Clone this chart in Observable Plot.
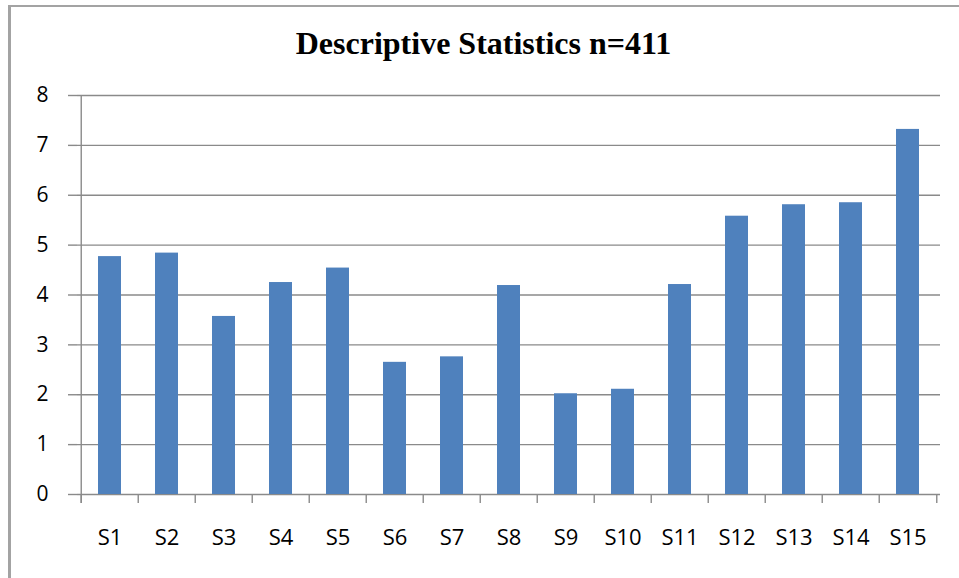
<!DOCTYPE html>
<html><head><meta charset="utf-8">
<script src="https://cdn.jsdelivr.net/npm/d3@7"></script>
<script src="https://cdn.jsdelivr.net/npm/@observablehq/plot@0.6"></script>
<style>
body{margin:0;background:#fff;}
#wrap{position:relative;width:959px;height:578px;overflow:hidden;background:#fff;}
#frame{position:absolute;left:8px;top:5px;width:1000px;height:700px;border-left:3px solid #a3a3a3;border-top:2px solid #a3a3a3;}
#title{position:relative;height:42px;padding-top:28px;padding-left:8px;line-height:30px;text-align:center;font-family:"Liberation Serif","Times New Roman",serif;font-weight:bold;font-size:32px;color:#000;}
#chart{position:relative;}
#chart svg{display:block;}
</style></head>
<body><div id="wrap"><div id="frame"></div><div id="title">Descriptive Statistics n=411</div><div id="chart"></div></div>
<script>
const categories = ["S1","S2","S3","S4","S5","S6","S7","S8","S9","S10","S11","S12","S13","S14","S15"];
const values = [4.77, 4.84, 3.57, 4.25, 4.54, 2.65, 2.76, 4.19, 2.02, 2.11, 4.21, 5.58, 5.81, 5.85, 7.32];
const yTicks = [0, 1, 2, 3, 4, 5, 6, 7, 8];

const W = 959, H = 508, ML = 77, MR = 19, MT = 25, MB = 84;
const step = (W - ML - MR) / categories.length;
const data = categories.map((c, i) => ({cat: c, val: values[i]}));
const grey = "#8a8a8a";

const chart = Plot.plot({
  width: W, height: H,
  marginLeft: ML, marginRight: MR, marginTop: MT, marginBottom: MB,
  style: {fontFamily: "'Open Sans', sans-serif", color: "#000", background: "transparent"},
  x: {domain: categories, paddingInner: 0.6, paddingOuter: 0.3, axis: null},
  y: {domain: [0, 8], axis: null},
  marks: [
    Plot.gridY(yTicks, {stroke: grey, strokeOpacity: 1, strokeWidth: 1.4}),
    Plot.axisY(yTicks, {tickSize: 9, tickPadding: 20, fontSize: 21, stroke: grey, strokeWidth: 1.4, label: null, tickFormat: d => String(d)}),
    Plot.ruleX(categories, {x: d => d, dx: -step / 2, y1: 0, y2: 0, insetBottom: -9, stroke: grey, strokeWidth: 1.4}),
    Plot.ruleX([categories[categories.length - 1]], {x: d => d, dx: step / 2, y1: 0, y2: 0, insetBottom: -9, stroke: grey, strokeWidth: 1.4}),
    Plot.ruleX([categories[0]], {x: d => d, dx: -step / 2, y1: 8, y2: 0, insetBottom: -9, stroke: grey, strokeWidth: 1.4}),
    Plot.barY(data, {x: "cat", y: "val", fill: "#4F81BD"}),
    Plot.axisX({tickSize: 0, tickPadding: 35, fontSize: 22, label: null})
  ]
});
document.getElementById("chart").appendChild(chart);
</script>
</body></html>
